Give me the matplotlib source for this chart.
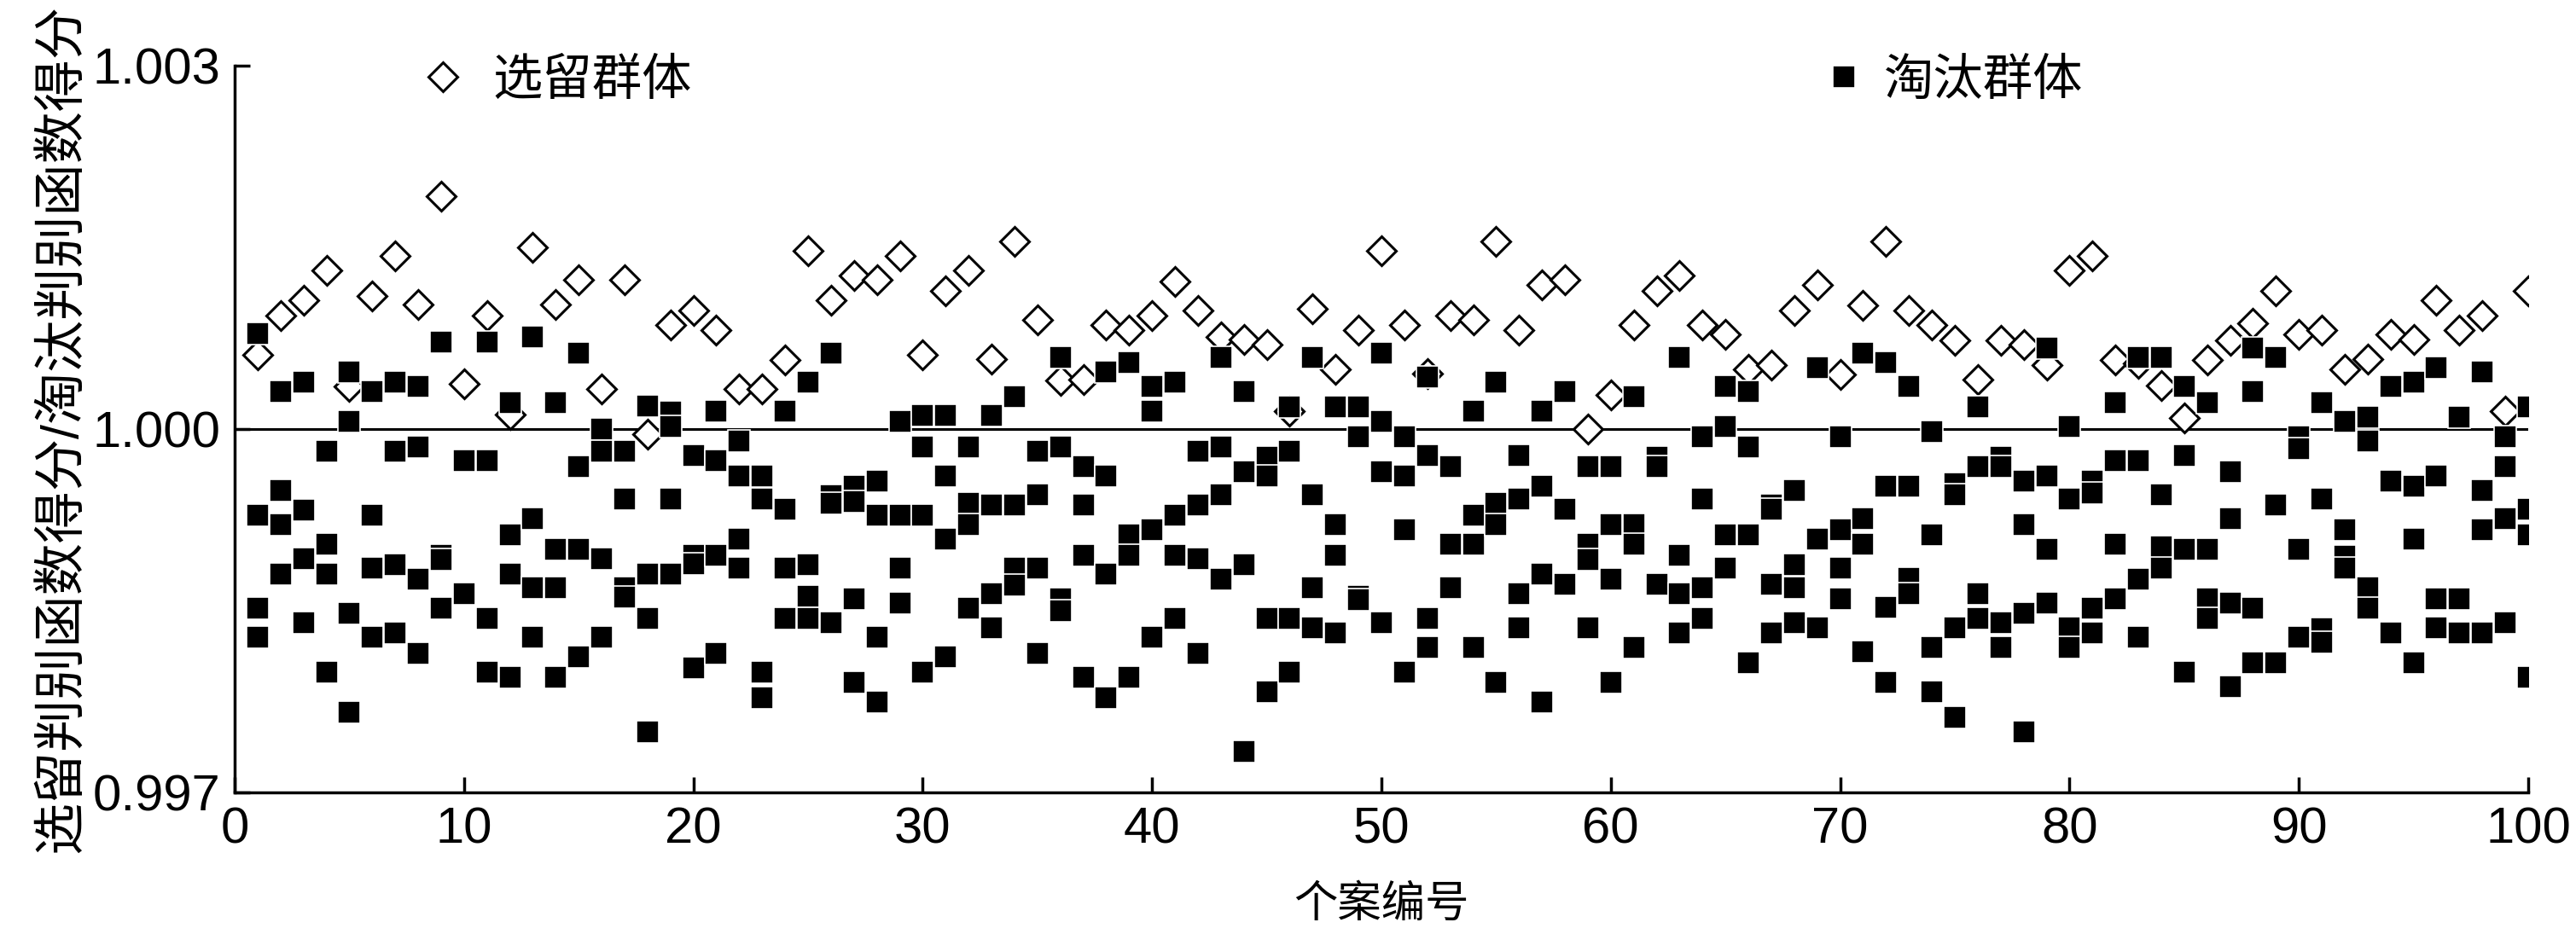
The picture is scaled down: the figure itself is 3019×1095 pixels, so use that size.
import matplotlib
matplotlib.use("Agg")
import matplotlib.pyplot as plt

plt.rcParams['font.family'] = ['Liberation Sans', 'Noto Sans CJK SC']

# 个案编号
cases = list(range(1, 101))

# 选留群体 判别得分（每个个案一个）
retained = [
    1.00061, 1.00094, 1.00106, 1.00131, 1.00035, 1.00110, 1.00143, 1.00103, 1.00192, 1.00037,
    1.00094, 1.00012, 1.00150, 1.00103, 1.00123, 1.00033, 1.00123, 0.99996, 1.00086, 1.00098,
    1.00082, 1.00033, 1.00033, 1.00057, 1.00147, 1.00106, 1.00127, 1.00123, 1.00143, 1.00061,
    1.00114, 1.00131, 1.00058, 1.00155, 1.00090, 1.00040, 1.00041, 1.00086, 1.00082, 1.00094,
    1.00122, 1.00098, 1.00076, 1.00074, 1.00070, 1.00015, 1.00099, 1.00049, 1.00082, 1.00147,
    1.00086, 1.00046, 1.00094, 1.00090, 1.00155, 1.00082, 1.00119, 1.00123, 1.00000, 1.00028,
    1.00086, 1.00114, 1.00127, 1.00086, 1.00078, 1.00049, 1.00053, 1.00098, 1.00119, 1.00045,
    1.00102, 1.00155, 1.00098, 1.00086, 1.00073, 1.00041, 1.00073, 1.00070, 1.00053, 1.00131,
    1.00143, 1.00057, 1.00054, 1.00036, 1.00009, 1.00057, 1.00073, 1.00087, 1.00114, 1.00078,
    1.00082, 1.00049, 1.00058, 1.00078, 1.00074, 1.00106, 1.00082, 1.00094, 1.00015, 1.00114,
]

# 淘汰群体 判别得分（每个个案若干个）
eliminated = [
    [1.00079, 0.99929, 0.99852, 0.99828],
    [1.00031, 0.99949, 0.99921, 0.99880],
    [1.00039, 0.99933, 0.99893, 0.99840],
    [0.99982, 0.99905, 0.99880, 0.99799],
    [1.00047, 1.00006, 0.99848, 0.99766],
    [1.00031, 0.99929, 0.99885, 0.99828],
    [1.00039, 0.99982, 0.99888, 0.99832],
    [1.00035, 0.99985, 0.99876, 0.99815],
    [1.00072, 0.99896, 0.99892, 0.99852],
    [0.99974, 0.99864],
    [1.00072, 0.99974, 0.99844, 0.99799],
    [1.00022, 0.99913, 0.99880, 0.99795],
    [1.00076, 0.99926, 0.99869, 0.99828],
    [1.00022, 0.99901, 0.99869, 0.99795],
    [1.00063, 0.99969, 0.99901, 0.99812],
    [1.00000, 0.99982, 0.99893, 0.99828],
    [0.99982, 0.99942, 0.99869, 0.99861],
    [1.00019, 0.99880, 0.99844, 0.99750],
    [1.00014, 1.00002, 0.99942, 0.99880],
    [0.99978, 0.99896, 0.99889, 0.99803],
    [1.00015, 0.99974, 0.99896, 0.99815],
    [0.99990, 0.99961, 0.99909, 0.99885],
    [0.99961, 0.99942, 0.99799, 0.99778],
    [1.00015, 0.99934, 0.99885, 0.99844],
    [1.00039, 0.99888, 0.99862, 0.99844],
    [1.00063, 0.99945, 0.99939, 0.99840],
    [0.99953, 0.99940, 0.99860, 0.99791],
    [0.99957, 0.99929, 0.99828, 0.99775],
    [1.00006, 0.99929, 0.99885, 0.99856],
    [1.00011, 0.99985, 0.99929, 0.99799],
    [1.00011, 0.99961, 0.99909, 0.99812],
    [0.99985, 0.99939, 0.99921, 0.99852],
    [1.00011, 0.99937, 0.99864, 0.99836],
    [1.00027, 0.99937, 0.99885, 0.99871],
    [0.99982, 0.99946, 0.99885, 0.99815],
    [1.00059, 0.99985, 0.99860, 0.99850],
    [0.99969, 0.99937, 0.99896, 0.99795],
    [1.00047, 0.99961, 0.99880, 0.99778],
    [1.00055, 0.99913, 0.99896, 0.99795],
    [1.00035, 1.00015, 0.99917, 0.99828],
    [1.00039, 0.99929, 0.99896, 0.99844],
    [0.99982, 0.99937, 0.99893, 0.99815],
    [1.00059, 0.99985, 0.99946, 0.99876],
    [1.00031, 0.99965, 0.99888, 0.99734],
    [0.99977, 0.99961, 0.99844, 0.99783],
    [1.00018, 0.99982, 0.99844, 0.99799],
    [1.00059, 0.99946, 0.99869, 0.99836],
    [1.00018, 0.99921, 0.99896, 0.99832],
    [1.00018, 0.99994, 0.99862, 0.99859],
    [1.00063, 1.00006, 0.99965, 0.99840],
    [0.99994, 0.99961, 0.99917, 0.99799],
    [1.00043, 0.99978, 0.99844, 0.99820],
    [0.99969, 0.99905, 0.99869],
    [1.00015, 0.99929, 0.99905, 0.99820],
    [1.00039, 0.99939, 0.99921, 0.99791],
    [0.99978, 0.99942, 0.99864, 0.99836],
    [1.00015, 0.99953, 0.99880, 0.99775],
    [1.00031, 0.99934, 0.99872],
    [0.99969, 0.99905, 0.99892, 0.99836],
    [0.99969, 0.99921, 0.99876, 0.99791],
    [1.00027, 0.99921, 0.99905, 0.99820],
    [0.99977, 0.99969, 0.99872],
    [1.00059, 0.99896, 0.99864, 0.99832],
    [0.99994, 0.99942, 0.99869, 0.99844],
    [1.00035, 1.00002, 0.99913, 0.99885],
    [1.00031, 0.99985, 0.99913, 0.99807],
    [0.99937, 0.99934, 0.99872, 0.99832],
    [0.99949, 0.99888, 0.99869, 0.99840],
    [1.00051, 0.99909, 0.99836],
    [0.99994, 0.99917, 0.99885, 0.99860],
    [1.00063, 0.99926, 0.99905, 0.99816],
    [1.00055, 0.99953, 0.99853, 0.99791],
    [1.00035, 0.99953, 0.99877, 0.99864],
    [0.99998, 0.99913, 0.99820, 0.99783],
    [0.99955, 0.99946, 0.99836, 0.99762],
    [1.00018, 0.99969, 0.99864, 0.99844],
    [0.99977, 0.99969, 0.99840, 0.99820],
    [0.99957, 0.99921, 0.99848, 0.99750],
    [1.00067, 0.99961, 0.99901, 0.99856],
    [1.00002, 0.99942, 0.99836, 0.99820],
    [0.99957, 0.99947, 0.99852, 0.99832],
    [1.00022, 0.99974, 0.99905, 0.99860],
    [1.00059, 0.99974, 0.99876, 0.99828],
    [1.00059, 0.99946, 0.99903, 0.99885],
    [1.00035, 0.99978, 0.99901, 0.99799],
    [1.00022, 0.99901, 0.99860, 0.99844],
    [0.99965, 0.99926, 0.99856, 0.99787],
    [1.00067, 1.00031, 0.99852, 0.99807],
    [1.00059, 0.99937, 0.99807],
    [0.99994, 0.99984, 0.99901, 0.99828],
    [1.00022, 0.99942, 0.99835, 0.99824],
    [1.00006, 0.99917, 0.99895, 0.99885],
    [1.00010, 0.99990, 0.99869, 0.99852],
    [1.00035, 0.99957, 0.99832],
    [1.00039, 0.99953, 0.99909, 0.99807],
    [1.00051, 0.99961, 0.99860, 0.99836],
    [1.00010, 0.99860, 0.99832],
    [1.00047, 0.99949, 0.99917, 0.99832],
    [0.99994, 0.99969, 0.99926, 0.99840],
    [1.00018, 0.99934, 0.99913, 0.99795],
]

x_ticks = [0, 10, 20, 30, 40, 50, 60, 70, 80, 90, 100]
y_ticks = [0.997, 1.000, 1.003]

# 展开淘汰群体数据
elim_x = []
elim_y = []
for c, vals in zip(cases, eliminated):
    for v in vals:
        elim_x.append(c)
        elim_y.append(v)

fig = plt.figure(figsize=(30.19, 10.95), dpi=100)
ax = fig.add_axes([275 / 3019, 1 - 929 / 1095, 2688 / 3019, 852 / 1095])

ax.axhline(1.000, color='black', lw=2.2, zorder=1)

h1, = ax.plot(cases, retained, linestyle='none', marker='D', ms=17.5,
              mfc='white', mec='black', mew=2.2, zorder=2, label='选留群体')
h2, = ax.plot(elim_x, elim_y, linestyle='none', marker='s', ms=19,
              mfc='black', mec='white', mew=1.2, zorder=3, label='淘汰群体')

ax.set_xlim(0, 100)
ax.set_ylim(0.997, 1.003)
ax.set_xticks(x_ticks)
ax.set_yticks(y_ticks)
ax.set_yticklabels([f"{v:.3f}" for v in y_ticks])

for s in ['top', 'right']:
    ax.spines[s].set_visible(False)
for s in ['left', 'bottom']:
    ax.spines[s].set_linewidth(2.5)

ax.tick_params(direction='in', length=13, width=2.5, labelsize=43, pad=12)

ax.set_xlabel('个案编号', fontsize=37, labelpad=26)
ax.set_ylabel('选留判别函数得分/淘汰判别函数得分', fontsize=44, labelpad=4)

leg1 = ax.legend(handles=[h1], loc='center left', bbox_to_anchor=(0.080, 0.978),
                 frameon=False, fontsize=42, handlelength=1.0, handletextpad=0.5,
                 borderpad=0, borderaxespad=0, numpoints=1)
ax.add_artist(leg1)
ax.legend(handles=[h2], loc='center left', bbox_to_anchor=(0.6908, 0.978),
          frameon=False, fontsize=42, handlelength=1.0, handletextpad=0.3,
          borderpad=0, borderaxespad=0, numpoints=1)

fig.savefig('out.png', dpi=100)
